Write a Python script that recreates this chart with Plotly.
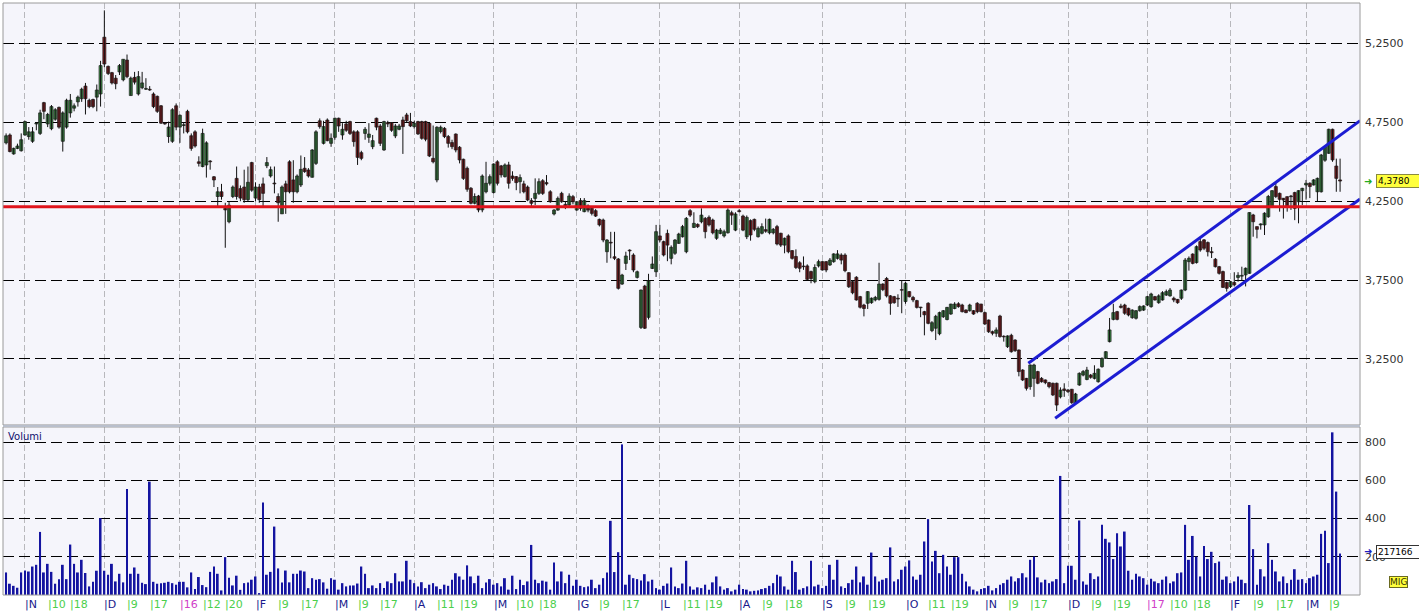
import pandas as pd
import plotly.graph_objects as go

# ---------------- data ----------------
holidays = ["2015-12-24", "2015-12-25", "2015-12-31", "2016-01-01",
            "2016-03-25", "2016-03-28", "2016-08-15", "2016-12-26"]
first_day = "2015-10-26"
last_day = "2017-03-14"

open_ = [
    4.62, 4.67, 4.55, 4.585, 4.57, 4.67, 4.66, 4.63, 4.74, 4.68,
    4.875, 4.74, 4.71, 4.77, 4.845, 4.63, 4.72, 4.81, 4.84, 4.88,
    4.90, 4.98, 4.89, 4.895, 4.91, 4.93, 5.29, 5.105, 5.065, 5.03,
    5.07, 5.02, 5.145, 4.92, 5.035, 4.93, 4.97, 4.96, 4.96, 4.93,
    4.915, 4.855, 4.745, 4.66, 4.63, 4.855, 4.72, 4.73, 4.82, 4.665,
    4.69, 4.50, 4.47, 4.48, 4.505, 4.405, 4.28, 4.31, 4.205, 4.12,
    4.28, 4.395, 4.33, 4.34, 4.26, 4.495, 4.27, 4.34, 4.36, 4.475,
    4.41, 4.365, 4.28, 4.17, 4.36, 4.50, 4.385, 4.31, 4.353, 4.459,
    4.448, 4.402, 4.49, 4.76, 4.617, 4.765, 4.617, 4.655, 4.776, 4.67,
    4.74, 4.755, 4.69, 4.69, 4.558, 4.68, 4.655, 4.596, 4.776, 4.727,
    4.575, 4.748, 4.748, 4.664, 4.706, 4.765, 4.797, 4.755, 4.723, 4.755,
    4.755, 4.755, 4.744, 4.522, 4.385, 4.692, 4.712, 4.66, 4.622, 4.676,
    4.592, 4.516, 4.459, 4.332, 4.237, 4.283, 4.195, 4.31, 4.364, 4.305,
    4.50, 4.474, 4.406, 4.48, 4.41, 4.406, 4.374, 4.36, 4.34, 4.254,
    4.268, 4.30, 4.38, 4.368, 4.31, 4.169, 4.194, 4.30, 4.23, 4.226,
    4.279, 4.194, 4.254, 4.184, 4.22, 4.205, 4.19, 4.135, 4.131, 3.93,
    3.99, 3.898, 3.884, 3.725, 3.856, 3.94, 3.909, 3.767, 3.45, 3.712,
    3.514, 3.824, 3.803, 4.03, 3.994, 4.046, 3.888, 3.92, 3.983, 4.025,
    3.93, 4.19, 4.084, 4.103, 4.12, 4.141, 4.148, 4.131, 4.015, 4.046,
    4.03, 4.05, 4.177, 4.067, 4.19, 4.156, 4.025, 4.127, 4.135, 4.025,
    4.047, 4.07, 4.05, 4.05, 4.089, 4.047, 3.972, 4.03, 3.937, 3.90,
    3.86, 3.836, 3.84, 3.804, 3.74, 3.84, 3.867, 3.867, 3.846, 3.867,
    3.888, 3.909, 3.909, 3.797, 3.74, 3.768, 3.645, 3.592, 3.603, 3.607,
    3.624, 3.628, 3.725, 3.76, 3.65, 3.645, 3.635, 3.69, 3.614, 3.677,
    3.64, 3.62, 3.578, 3.55, 3.603, 3.43, 3.445, 3.41, 3.518, 3.50,
    3.535, 3.57, 3.60, 3.592, 3.56, 3.556, 3.556, 3.603, 3.598, 3.544,
    3.497, 3.423, 3.413, 3.522, 3.394, 3.328, 3.40, 3.37, 3.307, 3.18,
    3.127, 3.075, 3.127, 3.17, 3.127, 3.117, 3.10, 3.096, 3.096, 3.01,
    3.06, 3.053, 3.058, 2.969, 3.085, 3.148, 3.12, 3.148, 3.127, 3.106,
    3.201, 3.254, 3.36, 3.501, 3.55, 3.585, 3.592, 3.571, 3.512, 3.508,
    3.556, 3.56, 3.592, 3.582, 3.645, 3.607, 3.624, 3.655, 3.65, 3.635,
    3.628, 3.635, 3.687, 3.867, 3.915, 3.861, 3.994, 4.005, 3.988, 3.93,
    3.882, 3.835, 3.804, 3.734, 3.709, 3.735, 3.767, 3.775, 3.783, 3.793,
    4.163, 4.089, 4.10, 4.10, 4.152, 4.216, 4.343, 4.30, 4.269, 4.279,
    4.282, 4.305, 4.247, 4.317, 4.353, 4.364, 4.353, 4.31, 4.31, 4.51,
    4.554, 4.706, 4.473, 4.385,
]
high = [
    4.68, 4.68, 4.59, 4.615, 4.68, 4.76, 4.72, 4.72, 4.75, 4.83,
    4.88, 4.81, 4.86, 4.84, 4.85, 4.82, 4.90, 4.93, 4.87, 4.92,
    4.97, 5.00, 4.90, 4.90, 4.99, 5.14, 5.46, 5.11, 5.07, 5.05,
    5.12, 5.15, 5.18, 5.04, 5.07, 5.075, 5.07, 5.03, 4.98, 4.94,
    4.92, 4.86, 4.75, 4.755, 4.84, 4.87, 4.80, 4.75, 4.83, 4.68,
    4.70, 4.535, 4.71, 4.63, 4.51, 4.41, 4.34, 4.36, 4.24, 4.25,
    4.35, 4.47, 4.35, 4.45, 4.47, 4.50, 4.37, 4.36, 4.40, 4.53,
    4.47, 4.47, 4.30, 4.35, 4.38, 4.51, 4.51, 4.42, 4.54, 4.53,
    4.46, 4.58, 4.70, 4.775, 4.76, 4.775, 4.68, 4.78, 4.78, 4.745,
    4.76, 4.76, 4.70, 4.70, 4.57, 4.72, 4.745, 4.67, 4.78, 4.74,
    4.76, 4.76, 4.75, 4.74, 4.74, 4.786, 4.81, 4.81, 4.76, 4.76,
    4.76, 4.76, 4.75, 4.73, 4.725, 4.73, 4.72, 4.67, 4.64, 4.68,
    4.60, 4.52, 4.47, 4.34, 4.30, 4.29, 4.42, 4.50, 4.42, 4.49,
    4.51, 4.48, 4.49, 4.50, 4.44, 4.41, 4.42, 4.38, 4.35, 4.27,
    4.395, 4.395, 4.39, 4.416, 4.32, 4.20, 4.28, 4.31, 4.25, 4.30,
    4.29, 4.25, 4.27, 4.27, 4.23, 4.21, 4.20, 4.14, 4.14, 4.01,
    4.056, 4.056, 3.89, 3.79, 3.93, 3.945, 3.92, 3.81, 3.69, 3.72,
    3.79, 3.90, 4.10, 4.10, 4.00, 4.07, 3.97, 4.01, 4.05, 4.10,
    4.15, 4.20, 4.18, 4.11, 4.205, 4.15, 4.16, 4.14, 4.075, 4.08,
    4.07, 4.205, 4.19, 4.18, 4.20, 4.165, 4.16, 4.135, 4.14, 4.09,
    4.11, 4.14, 4.14, 4.08, 4.10, 4.05, 4.02, 4.04, 3.94, 3.945,
    3.87, 3.90, 3.85, 3.81, 3.85, 3.88, 3.87, 3.87, 3.89, 3.92,
    3.94, 3.92, 3.92, 3.80, 3.75, 3.775, 3.65, 3.60, 3.68, 3.64,
    3.65, 3.86, 3.73, 3.77, 3.655, 3.65, 3.66, 3.75, 3.74, 3.68,
    3.65, 3.625, 3.58, 3.555, 3.61, 3.49, 3.53, 3.55, 3.56, 3.58,
    3.60, 3.61, 3.61, 3.60, 3.565, 3.60, 3.56, 3.61, 3.60, 3.55,
    3.50, 3.43, 3.45, 3.53, 3.40, 3.40, 3.41, 3.375, 3.31, 3.185,
    3.13, 3.215, 3.22, 3.175, 3.135, 3.12, 3.105, 3.10, 3.10, 3.07,
    3.096, 3.06, 3.06, 3.035, 3.165, 3.18, 3.20, 3.155, 3.21, 3.19,
    3.26, 3.30, 3.51, 3.60, 3.555, 3.60, 3.60, 3.575, 3.565, 3.56,
    3.59, 3.59, 3.65, 3.67, 3.65, 3.66, 3.68, 3.69, 3.70, 3.645,
    3.63, 3.69, 3.89, 3.90, 3.92, 3.97, 4.015, 4.01, 3.995, 3.96,
    3.89, 3.84, 3.81, 3.74, 3.745, 3.80, 3.80, 3.835, 3.83, 4.18,
    4.17, 4.09, 4.11, 4.18, 4.29, 4.32, 4.375, 4.305, 4.27, 4.28,
    4.29, 4.31, 4.32, 4.335, 4.385, 4.37, 4.39, 4.40, 4.55, 4.60,
    4.71, 4.71, 4.52, 4.52,
]
low = [
    4.61, 4.56, 4.545, 4.58, 4.565, 4.665, 4.64, 4.62, 4.70, 4.67,
    4.77, 4.72, 4.70, 4.76, 4.71, 4.565, 4.71, 4.78, 4.82, 4.85,
    4.88, 4.80, 4.84, 4.84, 4.82, 4.85, 5.10, 5.05, 4.99, 4.96,
    5.05, 5.01, 5.03, 4.92, 4.99, 4.92, 4.96, 4.955, 4.95, 4.84,
    4.81, 4.74, 4.735, 4.62, 4.62, 4.70, 4.62, 4.68, 4.68, 4.57,
    4.59, 4.47, 4.465, 4.40, 4.45, 4.34, 4.22, 4.26, 3.955, 4.11,
    4.27, 4.26, 4.25, 4.24, 4.25, 4.31, 4.25, 4.24, 4.22, 4.46,
    4.40, 4.30, 4.12, 4.17, 4.17, 4.30, 4.24, 4.30, 4.34, 4.43,
    4.40, 4.40, 4.48, 4.71, 4.61, 4.63, 4.595, 4.64, 4.69, 4.64,
    4.69, 4.67, 4.596, 4.48, 4.51, 4.64, 4.62, 4.58, 4.70, 4.60,
    4.57, 4.72, 4.69, 4.65, 4.70, 4.55, 4.75, 4.72, 4.71, 4.67,
    4.64, 4.63, 4.53, 4.49, 4.37, 4.68, 4.65, 4.59, 4.58, 4.56,
    4.49, 4.385, 4.31, 4.23, 4.23, 4.18, 4.18, 4.30, 4.35, 4.30,
    4.35, 4.40, 4.40, 4.33, 4.38, 4.32, 4.30, 4.30, 4.25, 4.22,
    4.226, 4.29, 4.29, 4.35, 4.24, 4.16, 4.19, 4.24, 4.20, 4.22,
    4.23, 4.19, 4.19, 4.18, 4.18, 4.16, 4.15, 4.09, 3.99, 3.86,
    3.888, 3.877, 3.69, 3.72, 3.814, 3.877, 3.80, 3.76, 3.44, 3.44,
    3.50, 3.82, 3.77, 3.99, 3.90, 3.87, 3.85, 3.91, 3.98, 4.02,
    3.92, 4.15, 4.08, 4.08, 4.11, 4.015, 4.09, 4.04, 4.005, 4.04,
    4.02, 4.045, 4.10, 4.06, 4.18, 4.06, 4.01, 4.00, 4.06, 4.02,
    4.04, 4.05, 4.04, 4.04, 3.97, 3.96, 3.92, 3.92, 3.88, 3.82,
    3.80, 3.815, 3.75, 3.73, 3.73, 3.83, 3.81, 3.80, 3.84, 3.86,
    3.88, 3.85, 3.80, 3.70, 3.66, 3.62, 3.57, 3.52, 3.567, 3.60,
    3.615, 3.62, 3.68, 3.64, 3.53, 3.60, 3.58, 3.54, 3.60, 3.64,
    3.61, 3.57, 3.515, 3.40, 3.47, 3.42, 3.37, 3.40, 3.51, 3.495,
    3.53, 3.565, 3.575, 3.545, 3.54, 3.55, 3.53, 3.54, 3.545, 3.465,
    3.415, 3.40, 3.39, 3.385, 3.36, 3.32, 3.29, 3.295, 3.14, 3.11,
    3.05, 3.055, 3.01, 3.09, 3.10, 3.09, 3.064, 3.015, 2.92, 3.00,
    3.01, 3.035, 2.965, 2.96, 3.08, 3.14, 3.115, 3.125, 3.12, 3.10,
    3.195, 3.25, 3.355, 3.495, 3.495, 3.57, 3.53, 3.52, 3.505, 3.50,
    3.55, 3.555, 3.585, 3.575, 3.62, 3.60, 3.62, 3.65, 3.645, 3.61,
    3.60, 3.624, 3.68, 3.81, 3.85, 3.855, 3.93, 3.94, 3.90, 3.89,
    3.83, 3.785, 3.70, 3.677, 3.70, 3.71, 3.74, 3.75, 3.71, 3.79,
    4.025, 4.015, 4.07, 4.036, 4.145, 4.21, 4.27, 4.184, 4.14, 4.184,
    4.195, 4.13, 4.11, 4.226, 4.26, 4.27, 4.35, 4.25, 4.305, 4.50,
    4.55, 4.50, 4.31, 4.31,
]
close = [
    4.665, 4.565, 4.585, 4.60, 4.64, 4.755, 4.69, 4.69, 4.745, 4.81,
    4.82, 4.80, 4.85, 4.83, 4.72, 4.81, 4.89, 4.89, 4.855, 4.91,
    4.96, 4.90, 4.85, 4.85, 4.955, 5.11, 5.12, 5.06, 5.00, 4.995,
    5.11, 5.15, 5.04, 5.03, 5.005, 5.04, 5.00, 4.965, 4.955, 4.85,
    4.82, 4.745, 4.74, 4.72, 4.83, 4.72, 4.795, 4.735, 4.69, 4.585,
    4.60, 4.49, 4.68, 4.62, 4.50, 4.385, 4.31, 4.28, 4.195, 4.225,
    4.34, 4.28, 4.27, 4.26, 4.37, 4.32, 4.34, 4.26, 4.30, 4.495,
    4.45, 4.36, 4.24, 4.34, 4.31, 4.31, 4.31, 4.41, 4.452, 4.438,
    4.41, 4.575, 4.69, 4.723, 4.723, 4.634, 4.649, 4.776, 4.727, 4.706,
    4.70, 4.68, 4.628, 4.528, 4.522, 4.706, 4.676, 4.634, 4.72, 4.617,
    4.755, 4.74, 4.70, 4.727, 4.727, 4.723, 4.76, 4.727, 4.744, 4.677,
    4.649, 4.643, 4.537, 4.50, 4.719, 4.719, 4.66, 4.617, 4.596, 4.575,
    4.512, 4.395, 4.326, 4.237, 4.28, 4.195, 4.41, 4.364, 4.406, 4.486,
    4.364, 4.417, 4.48, 4.364, 4.395, 4.368, 4.40, 4.31, 4.258, 4.237,
    4.30, 4.374, 4.30, 4.36, 4.247, 4.194, 4.268, 4.247, 4.215, 4.283,
    4.247, 4.247, 4.205, 4.254, 4.194, 4.173, 4.156, 4.10, 4.004, 4.004,
    3.985, 3.888, 3.698, 3.782, 3.903, 3.935, 3.814, 3.803, 3.687, 3.445,
    3.746, 3.852, 4.057, 4.004, 3.909, 3.972, 3.958, 4.004, 4.042, 4.089,
    4.141, 4.162, 4.11, 4.089, 4.162, 4.057, 4.10, 4.05, 4.067, 4.067,
    4.057, 4.194, 4.162, 4.169, 4.184, 4.067, 4.148, 4.036, 4.072, 4.078,
    4.089, 4.06, 4.135, 4.072, 3.979, 3.972, 4.015, 3.93, 3.888, 3.83,
    3.825, 3.835, 3.755, 3.76, 3.83, 3.867, 3.814, 3.814, 3.877, 3.916,
    3.916, 3.877, 3.81, 3.708, 3.67, 3.624, 3.578, 3.57, 3.677, 3.635,
    3.64, 3.725, 3.69, 3.65, 3.603, 3.607, 3.63, 3.686, 3.73, 3.645,
    3.624, 3.577, 3.575, 3.53, 3.476, 3.48, 3.52, 3.544, 3.556, 3.577,
    3.598, 3.598, 3.582, 3.55, 3.544, 3.592, 3.535, 3.55, 3.55, 3.472,
    3.423, 3.413, 3.434, 3.392, 3.39, 3.396, 3.296, 3.303, 3.17, 3.117,
    3.064, 3.212, 3.212, 3.096, 3.106, 3.10, 3.075, 3.022, 2.958, 3.053,
    3.05, 3.043, 2.973, 3.028, 3.159, 3.17, 3.18, 3.134, 3.159, 3.185,
    3.254, 3.296, 3.434, 3.544, 3.501, 3.577, 3.54, 3.529, 3.56, 3.556,
    3.582, 3.586, 3.645, 3.662, 3.624, 3.65, 3.67, 3.677, 3.687, 3.624,
    3.607, 3.687, 3.877, 3.888, 3.856, 3.962, 3.941, 3.952, 3.93, 3.924,
    3.835, 3.793, 3.704, 3.698, 3.74, 3.72, 3.78, 3.78, 3.825, 4.178,
    4.12, 4.072, 4.106, 4.174, 4.28, 4.317, 4.28, 4.262, 4.258, 4.216,
    4.279, 4.205, 4.317, 4.332, 4.364, 4.343, 4.385, 4.395, 4.543, 4.596,
    4.706, 4.512, 4.395, 4.378,
]
volume_k = [
    118, 59, 48, 38, 118, 128, 123, 149, 158, 330,
    118, 163, 121, 59, 83, 158, 83, 264, 163, 118,
    184, 115, 45, 69, 127, 402, 127, 106, 163, 71,
    111, 66, 555, 111, 144, 111, 64, 57, 593, 69,
    59, 61, 64, 69, 62, 54, 69, 69, 40, 118,
    31, 94, 52, 41, 121, 149, 111, 24, 198, 90,
    50, 101, 27, 62, 66, 80, 97, 10, 484, 106,
    121, 358, 139, 66, 128, 66, 111, 111, 128, 123,
    36, 88, 80, 83, 66, 33, 88, 80, 28, 62,
    45, 50, 50, 60, 149, 111, 36, 50, 36, 62,
    36, 71, 62, 114, 71, 71, 179, 80, 62, 45,
    67, 36, 54, 62, 45, 31, 54, 48, 80, 114,
    97, 80, 155, 97, 62, 101, 36, 66, 83, 54,
    62, 45, 88, 28, 101, 31, 80, 52, 71, 262,
    80, 62, 75, 70, 28, 170, 71, 123, 62, 106,
    48, 80, 48, 41, 45, 80, 36, 54, 88, 118,
    388, 120, 224, 788, 54, 106, 88, 83, 76, 109,
    71, 80, 36, 28, 48, 60, 144, 45, 36, 60,
    179, 45, 28, 40, 36, 54, 28, 66, 97, 45,
    28, 36, 19, 28, 54, 31, 28, 19, 22, 24,
    31, 36, 48, 62, 106, 97, 45, 28, 179, 120,
    28, 36, 45, 179, 45, 54, 36, 48, 158, 80,
    184, 45, 36, 62, 80, 149, 66, 97, 54, 222,
    97, 71, 80, 88, 249, 71, 83, 132, 149, 181,
    97, 80, 106, 280, 397, 175, 231, 114, 210, 149,
    106, 198, 198, 111, 71, 45, 28, 19, 31, 36,
    48, 24, 36, 54, 62, 80, 97, 71, 88, 114,
    92, 184, 201, 92, 66, 80, 62, 71, 83, 623,
    62, 153, 153, 80, 390, 71, 54, 114, 83, 97,
    367, 294, 275, 188, 323, 254, 332, 127, 80, 111,
    97, 88, 54, 85, 71, 62, 80, 97, 62, 71,
    114, 118, 367, 184, 309, 201, 97, 257, 188, 226,
    167, 175, 80, 97, 62, 71, 97, 80, 62, 471,
    240, 54, 135, 97, 271, 184, 123, 71, 97, 62,
    80, 135, 80, 83, 62, 88, 97, 106, 320, 336,
    167, 851, 541, 217,
]

# x-axis labels: (date, text, kind)  kind: m = month, d = day, y = year
tick_dates = ["2015-11-02", "2015-11-10", "2015-11-18", "2015-12-01", "2015-12-09", "2015-12-17",
              "2016-01-04", "2016-01-12", "2016-01-20", "2016-02-01", "2016-02-09", "2016-02-17",
              "2016-03-01", "2016-03-09", "2016-03-17", "2016-04-01", "2016-04-11", "2016-04-19",
              "2016-05-02", "2016-05-10", "2016-05-18", "2016-06-01", "2016-06-09", "2016-06-17",
              "2016-07-01", "2016-07-11", "2016-07-19", "2016-08-01", "2016-08-09", "2016-08-18",
              "2016-09-01", "2016-09-09", "2016-09-19", "2016-10-03", "2016-10-11", "2016-10-19",
              "2016-11-01", "2016-11-09", "2016-11-17", "2016-12-01", "2016-12-09", "2016-12-19",
              "2017-01-02", "2017-01-10", "2017-01-18", "2017-02-01", "2017-02-09", "2017-02-17",
              "2017-03-01", "2017-03-09"]
tick_texts = ["N", "10", "18", "D", "9", "17", "16", "12", "20", "F", "9", "17",
              "M", "9", "17", "A", "11", "19", "M", "10", "18", "G", "9", "17",
              "L", "11", "19", "A", "9", "18", "S", "9", "19", "O", "11", "19",
              "N", "9", "17", "D", "9", "19", "17", "10", "18", "F", "9", "17",
              "M", "9"]
tick_kinds = ["m", "d", "d", "m", "d", "d", "y", "d", "d", "m", "d", "d",
              "m", "d", "d", "m", "d", "d", "m", "d", "d", "m", "d", "d",
              "m", "d", "d", "m", "d", "d", "m", "d", "d", "m", "d", "d",
              "m", "d", "d", "m", "d", "d", "y", "d", "d", "m", "d", "d",
              "m", "d"]

price_ticks = [3.25, 3.75, 4.25, 4.75, 5.25]
volume_ticks = [200, 400, 600, 800]
support_level = 4.215
# trend channel: (trading-day index, price)
channel_upper_x = [270.5, 358.3]
channel_upper_y = [3.223, 4.761]
channel_lower_x = [277.6, 358.3]
channel_lower_y = [2.874, 4.264]
last_price_text = "4,3780"
last_volume_text = "217166"

# ---------------- build ----------------
days = [d.strftime("%Y-%m-%d") for d in pd.bdate_range(first_day, last_day)]
days = [d for d in days if d not in holidays]
n = min(len(days), len(close))
idx = list(range(n))

UP_COL = "#3f9048"
DN_COL = "#8c1e22"

wx, wy = [], []
for i in idx:
    wx += [i, i, None]
    wy += [low[i], high[i], None]

body_base = [min(open_[i], close[i]) for i in idx]
body_h = [max(abs(close[i] - open_[i]), 0.004) for i in idx]
body_col = [UP_COL if close[i] >= open_[i] else DN_COL for i in idx]

fig = go.Figure()
fig.add_trace(go.Scatter(x=wx, y=wy, mode="lines", line=dict(color="#111111", width=1),
                         hoverinfo="skip", xaxis="x", yaxis="y"))
fig.add_trace(go.Bar(x=idx, y=body_h, base=body_base, width=0.8,
                     marker=dict(color=body_col, line=dict(color="#1b1b1b", width=0.7)),
                     hoverinfo="skip", xaxis="x", yaxis="y"))
fig.add_trace(go.Scatter(x=channel_upper_x, y=channel_upper_y, mode="lines",
                         line=dict(color="#1c1cd2", width=3), hoverinfo="skip",
                         xaxis="x", yaxis="y"))
fig.add_trace(go.Scatter(x=channel_lower_x, y=channel_lower_y, mode="lines",
                         line=dict(color="#1c1cd2", width=3), hoverinfo="skip",
                         xaxis="x", yaxis="y"))
fig.add_trace(go.Bar(x=idx, y=volume_k[:n], width=0.5,
                     marker=dict(color="#1414a0", line=dict(width=0)),
                     hoverinfo="skip", xaxis="x2", yaxis="y2"))

month_pos = [days.index(d) for d, k in zip(tick_dates, tick_kinds) if k in ("m", "y") and d in days]

XR = [-0.82, 358.27]
P_DOM = [0.2872, 1.0]
V_DOM = [0.0, 0.2838]

common_x = dict(range=XR, tickmode="array", tickvals=month_pos, showticklabels=False,
                ticks="", showgrid=True, gridcolor="#b8b8bc", griddash="6px,3px",
                gridwidth=1, zeroline=False, showline=False, fixedrange=True)

fig.update_layout(
    width=1419, height=611,
    margin=dict(l=3, r=59, t=3, b=16),
    paper_bgcolor="white",
    plot_bgcolor="#f5f5fb",
    separators=",.",
    showlegend=False,
    barmode="overlay",
    hovermode=False,
    font=dict(family="DejaVu Sans", size=10, color="#222222"),
    xaxis=dict(domain=[0, 1], anchor="y", **common_x),
    xaxis2=dict(domain=[0, 1], anchor="y2", matches="x", **common_x),
    yaxis=dict(domain=P_DOM, range=[2.8316, 5.5067], side="right", tickmode="array",
               tickvals=price_ticks, tickformat=".4f", ticks="", ticklabelstandoff=4,
               showgrid=True, gridcolor="#000000", griddash="11px,5px", gridwidth=1,
               zeroline=False, showline=False, fixedrange=True,
               tickfont=dict(family="DejaVu Sans", size=11, color="#333333")),
    yaxis2=dict(domain=V_DOM, range=[0, 879], side="right", tickmode="array",
                tickvals=volume_ticks, tickformat="d", ticks="", ticklabelstandoff=4,
                showgrid=True, gridcolor="#000000", griddash="11px,5px", gridwidth=1,
                zeroline=False, showline=False, fixedrange=True,
                tickfont=dict(family="DejaVu Sans", size=11, color="#333333")),
)

shapes = [
    dict(type="line", xref="paper", yref="y", x0=0, x1=1, y0=support_level, y1=support_level,
         line=dict(color="#e0141c", width=3), layer="above"),
    dict(type="rect", xref="paper", yref="paper", x0=0, x1=1, y0=P_DOM[0], y1=P_DOM[1],
         line=dict(color="#9a9a9a", width=1)),
    dict(type="rect", xref="paper", yref="paper", x0=0, x1=1, y0=V_DOM[0], y1=V_DOM[1],
         line=dict(color="#9a9a9a", width=1)),
    dict(type="rect", xref="paper", yref="paper", x0=0, x1=1, y0=V_DOM[1], y1=P_DOM[0],
         fillcolor="#b9bfcc", line=dict(width=0)),
]
fig.update_layout(shapes=shapes)

COLS = {"m": "#1a1a8c", "d": "#4ccf4c", "y": "#d040c8"}
ann = []
for d, t, k in zip(tick_dates, tick_texts, tick_kinds):
    if d not in days:
        continue
    ann.append(dict(x=days.index(d), y=0, xref="x2", yref="paper", text="|" + t,
                    showarrow=False, xanchor="left", yanchor="top", xshift=-2, yshift=-1,
                    font=dict(family="DejaVu Sans", size=11, color=COLS[k])))
ann.append(dict(x=0.002, y=V_DOM[1], xref="paper", yref="paper", text="Volumi", showarrow=False,
                xanchor="left", yanchor="top", yshift=-2,
                font=dict(family="DejaVu Sans", size=10, color="#10106e")))
# last price box
ann.append(dict(x=1.0117, y=close[n - 1], xref="paper", yref="y", text=last_price_text,
                showarrow=False, xanchor="left", yanchor="middle", align="left",
                bgcolor="#ffff3c", bordercolor="#8a8a40", borderwidth=1, borderpad=1, width=40,
                font=dict(family="DejaVu Sans", size=9, color="#000000")))
ann.append(dict(x=1.0117, y=close[n - 1], xref="paper", yref="y", text="➜",
                showarrow=False, xanchor="right", yanchor="middle", xshift=-2,
                font=dict(family="DejaVu Sans", size=10, color="#22aa22")))
# last volume box (covers the 200 label as in the original)
ann.append(dict(x=1.0117, y=volume_k[n - 1] + 8, xref="paper", yref="y2", text=last_volume_text,
                showarrow=False, xanchor="left", yanchor="middle", align="left",
                bgcolor="#ffffff", bordercolor="#333333", borderwidth=1, borderpad=1, width=40,
                font=dict(family="DejaVu Sans", size=9, color="#000000")))
ann.append(dict(x=1.0117, y=volume_k[n - 1] + 8, xref="paper", yref="y2", text="➜",
                showarrow=False, xanchor="right", yanchor="middle", xshift=-2,
                font=dict(family="DejaVu Sans", size=10, color="#2020c0")))
ann.append(dict(x=1.0215, y=0.022, xref="paper", yref="paper", text="MIG",
                showarrow=False, xanchor="left", yanchor="middle",
                bgcolor="#ffff3c", bordercolor="#6a6a20", borderwidth=1, borderpad=0,
                font=dict(family="DejaVu Sans", size=9, color="#333300")))
fig.update_layout(annotations=ann)

fig.write_html("out.html", include_plotlyjs=True, config={"displayModeBar": False},
               post_script="document.body.style.margin='0';document.body.style.overflow='hidden';")
